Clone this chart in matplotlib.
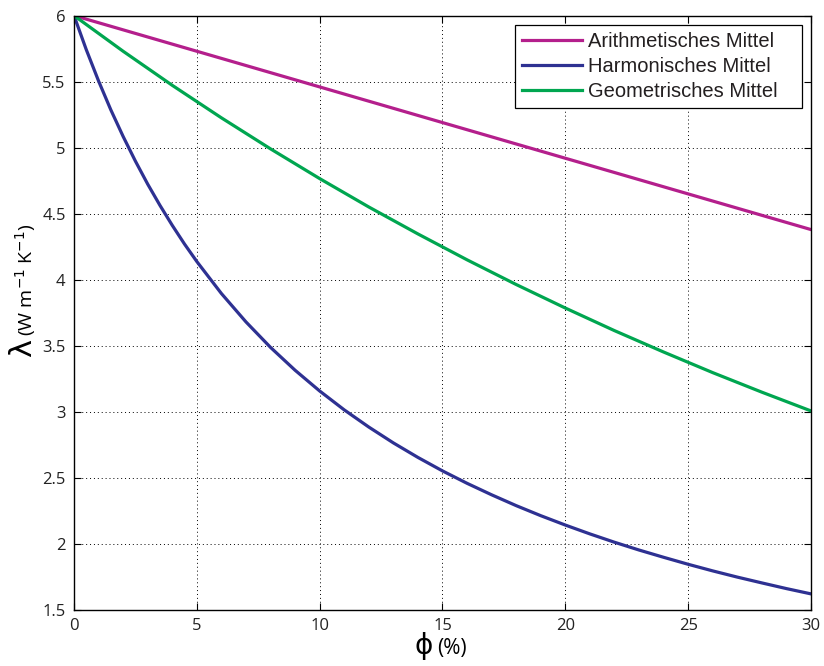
import matplotlib
matplotlib.use("Agg")
import matplotlib.pyplot as plt

# porosity phi (%) and effective thermal conductivity values
phi_a = [0, 5, 10, 15, 20, 25, 30]
arith = [6.00, 5.73, 5.46, 5.19, 4.92, 4.65, 4.38]

phi_h = [0, 0.5, 1, 1.5, 2, 2.5, 3, 3.5, 4, 4.5, 5, 6, 7, 8, 9, 10,
         11, 12, 13, 14, 15, 16, 17, 18, 19, 20, 21, 22, 23, 24, 25,
         26, 27, 28, 29, 30]
harm = [6.000, 5.742, 5.505, 5.286, 5.085, 4.898, 4.724, 4.563, 4.412,
        4.270, 4.138, 3.896, 3.681, 3.488, 3.315, 3.158, 3.015, 2.885,
        2.765, 2.655, 2.553, 2.459, 2.372, 2.290, 2.214, 2.143, 2.076,
        2.013, 1.954, 1.899, 1.846, 1.796, 1.749, 1.705, 1.662, 1.622]

phi_g = [0, 2, 4, 6, 8, 10, 12, 14, 16, 18, 20, 22, 24, 26, 28, 30]
geom = [6.000, 5.730, 5.472, 5.226, 4.991, 4.766, 4.551, 4.347, 4.151,
        3.964, 3.786, 3.615, 3.453, 3.297, 3.149, 3.007]

names = ["Arithmetisches Mittel", "Harmonisches Mittel", "Geometrisches Mittel"]
colors = ["#B41F8C", "#2E3192", "#00A650"]

xticks = [0, 5, 10, 15, 20, 25, 30]
yticks = [1.5, 2, 2.5, 3, 3.5, 4, 4.5, 5, 5.5, 6]
yticklabels = ["1.5", "2", "2.5", "3", "3.5", "4", "4.5", "5", "5.5", "6"]

fig = plt.figure(figsize=(8.24, 6.66), dpi=100)
ax = fig.add_axes([0.0898, 0.0841, 0.8944, 0.8925])

for xs, ys, name, c in zip([phi_a, phi_h, phi_g], [arith, harm, geom], names, colors):
    ax.plot(xs, ys, color=c, lw=2.3, label=name + "   ")

ax.set_xlim(0, 30)
ax.set_ylim(1.5, 6)
ax.set_xticks(xticks)
ax.set_yticks(yticks)
ax.set_yticklabels(yticklabels)
for lab in ax.get_xticklabels() + ax.get_yticklabels():
    lab.set_family("Open Sans")
    lab.set_fontsize(12)
    lab.set_color("#222222")
ax.tick_params(direction="in", top=True, right=True, length=5, width=0.8, pad=6)
ax.grid(True, color="black", linestyle=(0, (1, 3)), linewidth=0.7)
for s in ax.spines.values():
    s.set_linewidth(1.0)

leg = ax.legend(loc="upper right", prop={"family": "Liberation Sans", "size": 14.5},
                handlelength=3.0, fancybox=False, framealpha=1,
                edgecolor="black", borderpad=0.35, labelspacing=0.3,
                borderaxespad=0.45, handletextpad=0.3)
leg.get_frame().set_linewidth(0.9)
for t in leg.get_texts():
    t.set_color("#231F20")

# axis labels as in the original: big symbol, smaller units
fig.text(0.028, 0.477, "λ", rotation=90, fontsize=22, family="DejaVu Sans",
         ha="center", va="center")
fig.text(0.031, 0.496, "(W m$^{-1}$ K$^{-1}$)", rotation=90, fontsize=14,
         family="Open Sans", ha="center", va="bottom")
fig.text(0.525, 0.018, "ϕ", fontsize=20, family="DejaVu Sans",
         ha="right", va="baseline")
fig.text(0.530, 0.018, "(%)", fontsize=15, family="Open Sans",
         ha="left", va="baseline")

fig.savefig("out.png", dpi=100)
